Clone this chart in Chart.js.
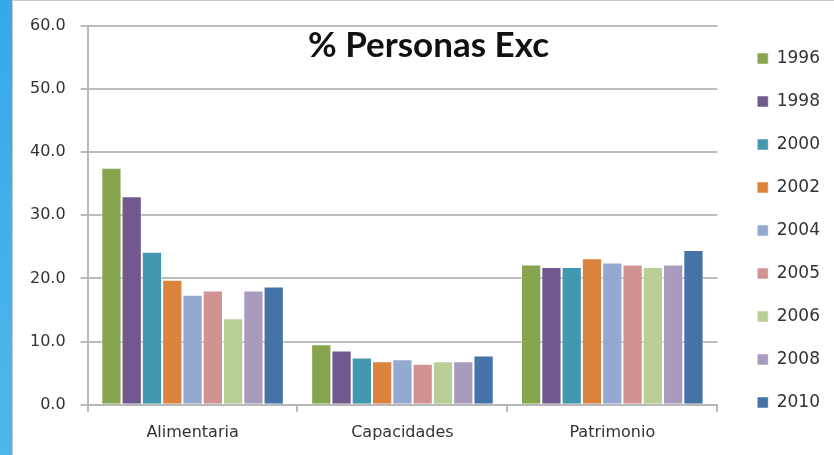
<!DOCTYPE html>
<html>
<head>
<meta charset="utf-8">
<script src="https://cdn.jsdelivr.net/npm/chart.js@4/dist/chart.umd.min.js"></script>
<style>
body{margin:0;background:#fff;}
#wrap{position:relative;width:834px;height:455px;overflow:hidden;background:#fff;}
#strip{position:absolute;left:0;top:0;width:12px;height:455px;background:linear-gradient(#35a9e8,#4fb6ec);}
#frame{position:absolute;left:12px;top:0;width:822px;height:455px;border-left:1px solid #c8c8c8;border-top:1px solid #c8c8c8;box-sizing:border-box;}
#box{position:absolute;left:13px;top:1px;width:821px;height:454px;}
#title{position:absolute;left:308px;top:22px;font:bold 35px Lato, sans-serif;color:#111;white-space:nowrap;}
</style>
</head>
<body>
<div id="wrap">
<div id="strip"></div>
<div id="frame"></div>
<div id="box"><canvas id="chart"></canvas></div>
<div id="title">% Personas Exc</div>
</div>
<script>
/* data */
const categories = ["Alimentaria", "Capacidades", "Patrimonio"];
const years = ["1996", "1998", "2000", "2002", "2004", "2005", "2006", "2008", "2010"];
const v1996 = [37.5, 9.6, 22.2];
const v1998 = [33.0, 8.6, 21.8];
const v2000 = [24.2, 7.5, 21.8];
const v2002 = [19.8, 6.9, 23.2];
const v2004 = [17.4, 7.2, 22.5];
const v2005 = [18.1, 6.5, 22.2];
const v2006 = [13.7, 6.9, 21.8];
const v2008 = [18.1, 6.9, 22.2];
const v2010 = [18.7, 7.8, 24.5];
const series = [v1996, v1998, v2000, v2002, v2004, v2005, v2006, v2008, v2010];
const colors = ["#87a54e", "#71588f", "#4198af", "#db843d", "#93a9cf", "#d19392", "#b9cd96", "#a99bbd", "#4572a7"];

const tickFont = {family: "DejaVu Sans", size: 16};

/* chart */
new Chart(document.getElementById("chart"), {
type: "bar",
data: {
labels: categories,
datasets: years.map((y, i) => ({
label: y,
data: series[i],
backgroundColor: colors[i],
borderColor: "rgba(255,255,255,0.5)",
borderWidth: 1
}))
},
options: {
responsive: true,
maintainAspectRatio: false,
animation: false,
layout: {padding: {left: 2, right: 4, top: 23, bottom: 2}},
datasets: {bar: {categoryPercentage: 0.87, barPercentage: 1}},
plugins: {
title: {display: false},
tooltip: {enabled: false},
legend: {
position: "right",
align: "start",
labels: {
boxWidth: 11,
boxHeight: 11,
padding: 26,
color: "#333",
font: {family: "DejaVu Sans", size: 17}
}
}
},
scales: {
x: {
grid: {drawOnChartArea: false, drawTicks: true, tickLength: 7, color: "#b8b8b8", lineWidth: 2},
border: {color: "#b8b8b8", width: 2},
ticks: {color: "#333", padding: 11, font: tickFont}
},
y: {
min: 0,
max: 60,
grid: {color: "#bcbcbc", lineWidth: 2, tickLength: 7},
border: {color: "#b8b8b8", width: 2},
ticks: {
stepSize: 10,
color: "#333",
padding: 15,
font: tickFont,
callback: v => v.toFixed(1)
}
},
gap: {
position: "right",
display: true,
grid: {display: false},
border: {display: false},
ticks: {display: false},
afterFit: s => { s.width = 14; }
}
}
}
});
</script>
</body>
</html>
